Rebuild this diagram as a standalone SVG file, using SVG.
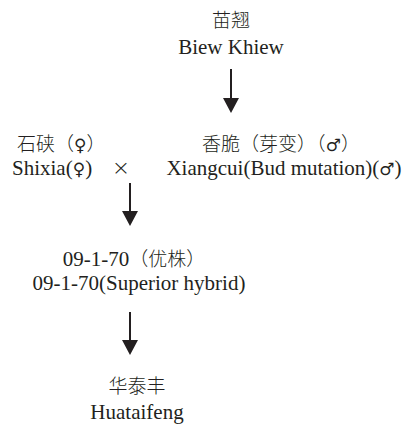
<svg xmlns="http://www.w3.org/2000/svg" width="409" height="425" viewBox="0 0 409 425">
<defs>
<style>
text{font-family:"Liberation Serif","Noto Sans CJK SC",serif;fill:#231f20;}
.cn{font-size:19px;font-weight:300;}
.en{font-size:21px;}
.c{text-anchor:middle;}
.num{font-size:21px;font-weight:400;}
.sym{font-family:"DejaVu Sans",sans-serif;font-size:17px;font-weight:400;}
.x{font-family:"DejaVu Sans",sans-serif;font-size:22px;font-weight:300;}
.conn line{stroke:#231f20;stroke-width:2;}
</style>
<marker id="ah" markerUnits="userSpaceOnUse" markerWidth="16" markerHeight="16" refX="1" refY="8" orient="auto" viewBox="0 0 16 16">
<path d="M0,0 L15,8 L0,16 z" fill="#231f20"/>
</marker>
</defs>
<rect width="409" height="425" fill="#ffffff"/>
<g id="node-biewkhiew">
<text class="cn c" x="231" y="27">苗翘</text>
<text class="en c" x="231" y="54">Biew Khiew</text>
</g>
<g id="node-shixia">
<text class="cn" x="17" y="151">石硖（<tspan class="sym">♀</tspan>）</text>
<text class="en" x="12" y="175">Shixia(<tspan class="sym">♀</tspan>)</text>
</g>
<g id="cross">
<text class="x c" x="121" y="175">×</text>
</g>
<g id="node-xiangcui">
<text class="cn c" x="281" y="151">香脆（芽变）（<tspan class="sym">♂</tspan>）</text>
<text class="en c" x="284" y="175">Xiangcui(Bud mutation)(<tspan class="sym">♂</tspan>)</text>
</g>
<g id="node-09-1-70">
<text class="cn c" x="134" y="266"><tspan class="num">09-1-70</tspan>（优株）</text>
<text class="en c" x="139" y="290">09-1-70(Superior hybrid)</text>
</g>
<g id="node-huataifeng">
<text class="cn c" x="137" y="393">华泰丰</text>
<text class="en c" x="137" y="419">Huataifeng</text>
</g>
<g id="connectors" class="conn">
<line x1="231" y1="69" x2="231" y2="99" marker-end="url(#ah)"/>
<line x1="130" y1="183" x2="130" y2="212" marker-end="url(#ah)"/>
<line x1="130" y1="312" x2="130" y2="341" marker-end="url(#ah)"/>
</g>
</svg>
